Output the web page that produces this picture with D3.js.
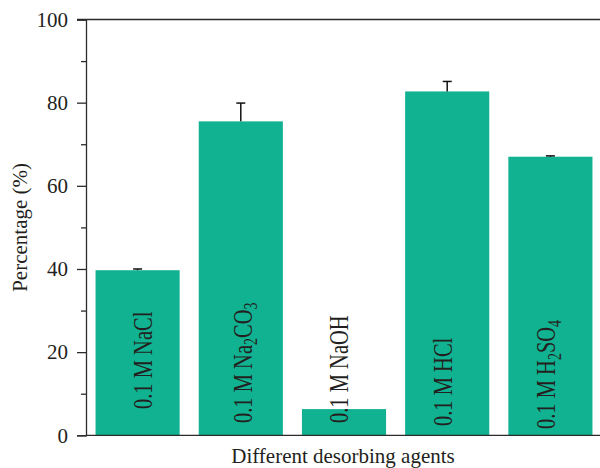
<!DOCTYPE html>
<html>
<head>
<meta charset="utf-8">
<script src="https://cdn.jsdelivr.net/npm/d3@7"></script>
<style>
  html, body { margin: 0; padding: 0; background: #fff; }
  svg { display: block; }
  text { font-family: "Liberation Serif", "Times New Roman", serif; fill: #231f20; }
</style>
</head>
<body>
<svg id="chart" width="600" height="468"></svg>
<script>
// Desorption percentage per agent (mean and upper error)
const agents = ["NaCl", "Na2CO3", "NaOH", "HCl", "H2SO4"];
// label pieces: [text, isSubscript]
const agentLabels = [
  [["0.1 M NaCl", false]],
  [["0.1 M Na", false], ["2", true], ["CO", false], ["3", true]],
  [["0.1 M NaOH", false]],
  [["0.1 M HCl", false]],
  [["0.1 M H", false], ["2", true], ["SO", false], ["4", true]]
];
const percentage = [39.7, 75.5, 6.3, 82.7, 67.0];
const errorUp = [0.3, 4.4, 0, 2.4, 0.2];
const yTicks = [0, 20, 40, 60, 80, 100];
const yMinorTicks = [10, 30, 50, 70, 90];

// per-label nudges for the rotated text inside bars
const labelShift = [[14, 409], [11, 423], [4, 423], [5, 426], [5, 429]];

const svg = d3.select("#chart");
const plotLeft = 86, plotRight = 602, plotTop = 19.5, plotBottom = 435.3;
const ink = "#2b2b2b";
const barColor = "#10b292";

const x = d3.scaleBand().domain(agents).range([plotLeft, plotRight])
  .paddingInner(0.185).paddingOuter(0.0925);
const y = d3.scaleLinear().domain([0, 100]).range([plotBottom, plotTop]);

// bars
svg.append("g").selectAll("rect").data(agents).join("rect")
  .attr("x", d => x(d))
  .attr("width", x.bandwidth())
  .attr("y", (d, i) => y(percentage[i]))
  .attr("height", (d, i) => y(0) - y(percentage[i]))
  .attr("fill", barColor);

// error bars (upper half only)
const eb = svg.append("g").attr("stroke", "#111").attr("stroke-width", 1.5);
agents.forEach((d, i) => {
  if (errorUp[i] <= 0) return;
  const cx = x(d) + x.bandwidth() / 2;
  const y0 = y(percentage[i]), y1 = y(percentage[i] + errorUp[i]);
  eb.append("line").attr("x1", cx).attr("x2", cx).attr("y1", y0).attr("y2", y1);
  eb.append("line").attr("x1", cx - 4.5).attr("x2", cx + 4.5).attr("y1", y1).attr("y2", y1);
});

// top frame line
svg.append("line").attr("x1", 77).attr("x2", 600).attr("y1", plotTop).attr("y2", plotTop)
  .attr("stroke", ink).attr("stroke-width", 1.3);

// y axis with major and minor ticks
const yAxis = d3.axisLeft(y).tickValues(yTicks).tickSize(9).tickPadding(9).tickFormat(d3.format("d"));
const gy = svg.append("g").attr("transform", `translate(${plotLeft},0)`).call(yAxis);
gy.select(".domain").attr("stroke", ink).attr("stroke-width", 1.3);
gy.selectAll(".tick line").attr("stroke", ink).attr("stroke-width", 1.3);
gy.selectAll(".tick text").attr("font-size", 21).attr("font-family", "Liberation Serif").attr("fill", "#231f20");
const gyMinor = svg.append("g").attr("transform", `translate(${plotLeft},0)`)
  .call(d3.axisLeft(y).tickValues(yMinorTicks).tickSize(5).tickFormat(""));
gyMinor.select(".domain").remove();
gyMinor.selectAll(".tick line").attr("stroke", ink).attr("stroke-width", 1.3);

// x axis line
svg.append("line").attr("x1", plotLeft).attr("x2", 600).attr("y1", plotBottom).attr("y2", plotBottom)
  .attr("stroke", ink).attr("stroke-width", 1.3);

// rotated agent labels inside bars
agents.forEach((d, i) => {
  const cx = x(d) + x.bandwidth() / 2;
  const [dx, by] = labelShift[i];
  const t = svg.append("text")
    .attr("transform", `translate(${cx + dx},${by}) rotate(-90) scale(1,1.32)`)
    .attr("font-size", 20.5)
    .attr("text-anchor", "start");
  agentLabels[i].forEach(([s, sub], k) => {
    const prevSub = k > 0 && agentLabels[i][k - 1][1];
    const ts = t.append("tspan").text(s);
    if (sub) ts.attr("font-size", 14).attr("dy", 4);
    else if (prevSub) ts.attr("dy", -4);
  });
});

// axis titles
svg.append("text")
  .attr("x", (plotLeft + 600) / 2).attr("y", 463)
  .attr("text-anchor", "middle").attr("font-size", 21)
  .text("Different desorbing agents");
svg.append("text")
  .attr("transform", `translate(27,${(plotTop + plotBottom) / 2}) rotate(-90)`)
  .attr("text-anchor", "middle").attr("font-size", 21)
  .text("Percentage (%)");
</script>
</body>
</html>
